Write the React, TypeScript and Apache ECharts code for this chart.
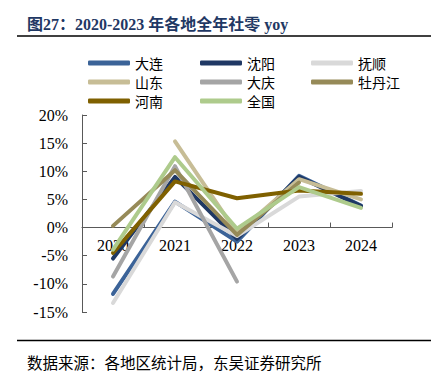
import React, { useEffect, useRef } from "react";
import * as echarts from "echarts";

const years = ["2020", "2021", "2022", "2023", "2024"];
const dalian = [-11.8, 4.6, -2.5, 9.2, 3.9];
const shenyang = [-5.5, 9.0, -2.0, 9.0, 3.8];
const fushun = [-13.4, 4.5, -1.5, 5.5, 6.5];
const shandong = [null, 15.3, -1.0, 8.6, 5.0];
const daqing = [-8.7, 10.9, -9.6, null, null];
const mudanjiang = [0.3, 10.2, -1.3, 8.0, null];
const henan = [-4.5, 8.2, 5.2, 6.6, 6.0];
const national = [-3.9, 12.5, -0.2, 7.2, 3.5];
const yTicks = { min: -15, max: 20, interval: 5 };

const seriesDefs = [
  { name: "大连", data: dalian, color: "#3b6398" },
  { name: "沈阳", data: shenyang, color: "#1f3864" },
  { name: "抚顺", data: fushun, color: "#d9d9d9" },
  { name: "山东", data: shandong, color: "#c7bd96" },
  { name: "大庆", data: daqing, color: "#a5a5a5" },
  { name: "牡丹江", data: mudanjiang, color: "#968a58" },
  { name: "河南", data: henan, color: "#7f6000" },
  { name: "全国", data: national, color: "#aecb8c" },
];

const legendCols = [
  ["大连", "山东", "河南"],
  ["沈阳", "大庆", "全国"],
  ["抚顺", "牡丹江"],
];
const legendLefts = [83, 195, 306];

const CJK = "'Noto Sans CJK SC', sans-serif";
const SERIF = "'Liberation Serif', 'Noto Sans CJK SC', serif";

const GRID_TOP = 115;
const GRID_BOTTOM = 67;
const PLOT_H = 379 - GRID_TOP - GRID_BOTTOM;
const ZERO_OFFSET = -PLOT_H * (0 - yTicks.min) / (yTicks.max - yTicks.min);

export default function App() {
  const ref = useRef<HTMLDivElement>(null);
  useEffect(() => {
    if (!ref.current) return;
    const chart = echarts.init(ref.current, undefined, { renderer: "svg" });
    chart.setOption({
      animation: false,
      backgroundColor: "#ffffff",
      grid: { left: 82, right: 48, top: GRID_TOP, bottom: GRID_BOTTOM, containLabel: false },
      legend: legendCols.map((col, i) => ({
        orient: "vertical",
        left: legendLefts[i],
        top: 51,
        itemWidth: 42,
        itemHeight: 5,
        itemGap: 5,
        icon: "roundRect",
        data: col,
        textStyle: { fontFamily: CJK, fontSize: 14, color: "#000", lineHeight: 14 },
        selectedMode: false,
      })),
      xAxis: {
        type: "category",
        data: years,
        boundaryGap: true,
        offset: ZERO_OFFSET,
        axisLine: { onZero: false, lineStyle: { color: "#595959", width: 1 } },
        axisTick: { show: true, inside: true, length: 5, lineStyle: { color: "#595959" } },
        axisLabel: { fontFamily: SERIF, fontSize: 16, color: "#000", margin: 10 },
        splitLine: { show: false },
      },
      yAxis: {
        type: "value",
        min: yTicks.min,
        max: yTicks.max,
        interval: yTicks.interval,
        axisLine: { show: true, onZero: false, lineStyle: { color: "#595959", width: 1 } },
        axisTick: { show: true, inside: true, length: 5, lineStyle: { color: "#595959" } },
        axisLabel: {
          formatter: "{value}%",
          fontFamily: SERIF,
          fontSize: 16,
          color: "#000",
          margin: 14,
        },
        splitLine: { show: false },
      },
      series: seriesDefs.map((s, i) => ({
        name: s.name,
        type: "line",
        data: s.data,
        symbol: "none",
        connectNulls: false,
        color: s.color,
        itemStyle: { color: s.color },
        lineStyle: { color: s.color, width: 4, cap: "round", join: "round" },
        z: 2 + i * 0.01,
      })),
      graphic: [
        {
          type: "text",
          left: 27,
          top: 16,
          style: {
            text: "图27：2020-2023 年各地全年社零 yoy",
            fontFamily: SERIF,
            fontWeight: "bold",
            fontSize: 16,
            fill: "#1f3864",
          },
        },
        {
          type: "line",
          shape: { x1: 17, y1: 36, x2: 431, y2: 36 },
          style: { stroke: "#000", lineWidth: 1.5 },
        },
        {
          type: "line",
          shape: { x1: 17, y1: 340.5, x2: 431, y2: 340.5 },
          style: { stroke: "#000", lineWidth: 1.5 },
        },
        {
          type: "text",
          left: 27,
          top: 354,
          style: {
            text: "数据来源：各地区统计局，东吴证券研究所",
            fontFamily: CJK,
            fontSize: 15.5,
            fill: "#000",
          },
        },
      ],
    });
    return () => chart.dispose();
  }, []);
  return (
    <div
      ref={ref}
      style={{ position: "fixed", left: 0, top: 0, width: 440, height: 379 }}
    />
  );
}
